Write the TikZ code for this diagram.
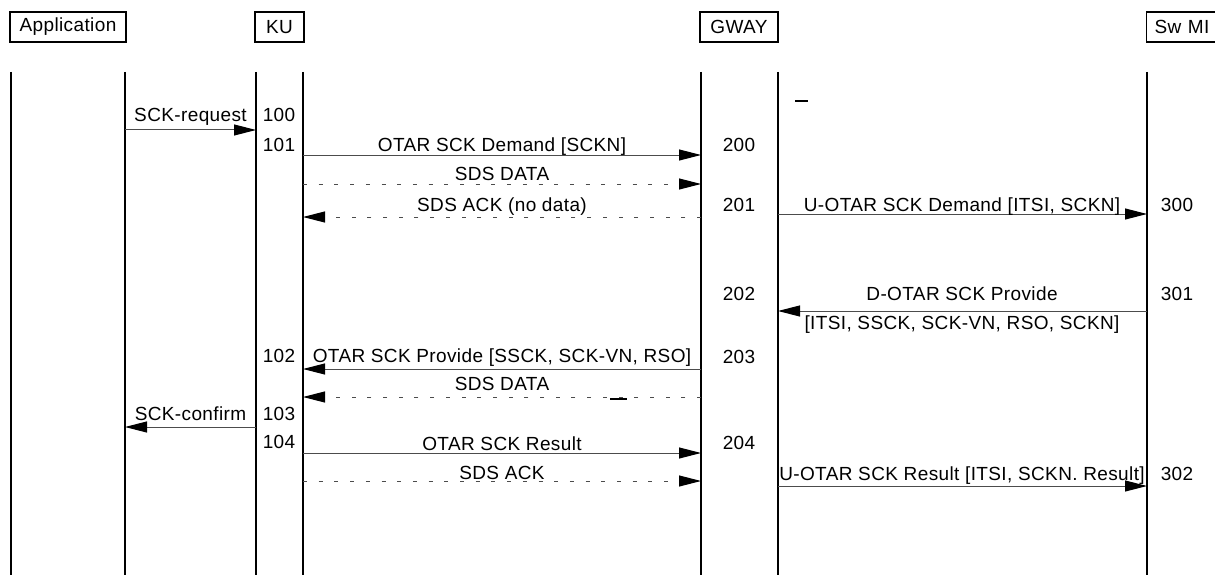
\documentclass[tikz,border=0pt]{standalone}
\usepackage{fontspec}
\setmainfont{Liberation Sans}[LetterSpace=2]
\usetikzlibrary{arrows.meta}
\begin{document}
\begin{tikzpicture}[x=1pt,y=-1pt,
  every node/.style={font=\fontsize{19}{22}\selectfont, inner sep=0pt},
  hdr/.style={draw, line width=1.4pt, minimum height=30pt, inner xsep=7pt},
  life/.style={line width=2pt},
  msg/.style={draw=black!70, line width=1pt, -{Triangle[length=22pt,width=11pt,color=black,fill=black]}},
  dmsg/.style={msg, dash pattern=on 4pt off 11.7pt},
  lbl/.style={anchor=base},
  num/.style={anchor=base},
  blot/.style={line width=2pt}]
\useasboundingbox (0,0) rectangle (1215,575);
\clip (0,0) rectangle (1215,575);
% headers
\node[hdr, minimum width=116pt] (app) at (68,27) {Application};
\node[hdr, minimum width=49pt] (ku) at (279.5,27) {KU};
\node[hdr, minimum width=78pt] (gw) at (739,27) {GWAY};
\node[hdr, anchor=west, minimum width=130pt, text width=114pt, align=left, inner xsep=8pt] (sw) at (1146,27) {Sw MI};
% lifeline ends
\coordinate (APl) at (11,72);   \coordinate (APr) at (125,72);
\coordinate (KUl) at (256,72);  \coordinate (KUr) at (303,72);
\coordinate (GWl) at (701,72);  \coordinate (GWr) at (778,72);
\coordinate (SWl) at (1147,72);
\coordinate (bot) at (0,580);
\foreach \c in {APl,APr,KUl,KUr,GWl,GWr,SWl} \draw[life] (\c) -- (\c |- bot);
% rows
\coordinate (r0) at (0,130);  \coordinate (r1) at (0,155);
\coordinate (r2) at (0,184);  \coordinate (r3) at (0,217);
\coordinate (r4) at (0,214);  \coordinate (r5) at (0,311);
\coordinate (r6) at (0,369);  \coordinate (r7) at (0,397);
\coordinate (r8) at (0,427);  \coordinate (r9) at (0,453);
\coordinate (r10) at (0,481); \coordinate (r11) at (0,486);
% messages
\draw[msg] (APr |- r0) -- (KUl |- r0);
\node[lbl] (t0) at (190.5,122) {SCK-request};
\draw[msg] (KUr |- r1) -- (GWl |- r1);
\node[lbl] (t1) at (502,152) {OTAR SCK Demand [SCKN]};
\draw[dmsg] (KUr |- r2) -- (GWl |- r2);
\node[lbl] (t2) at (502,180) {SDS DATA};
\draw[dmsg] (GWl |- r3) -- (KUr |- r3);
\node[lbl] (t3) at (502,211) {SDS ACK (no data)};
\draw[msg] (GWr |- r4) -- (SWl |- r4);
\node[lbl] (t4) at (962,211) {U-OTAR SCK Demand [ITSI, SCKN]};
\draw[msg] (SWl |- r5) -- (GWr |- r5);
\node[lbl] (t5a) at (962,300) {D-OTAR SCK Provide};
\node[lbl] (t5b) at (962,329) {[ITSI, SSCK, SCK-VN, RSO, SCKN]};
\draw[msg] (GWl |- r6) -- (KUr |- r6);
\node[lbl] (t6) at (502,362) {OTAR SCK Provide [SSCK, SCK-VN, RSO]};
\draw[dmsg] (GWl |- r7) -- (KUr |- r7);
\node[lbl] (t7) at (502,390) {SDS DATA};
\draw[msg] (KUl |- r8) -- (APr |- r8);
\node[lbl] (t8) at (190.5,420) {SCK-confirm};
\draw[msg] (KUr |- r9) -- (GWl |- r9);
\node[lbl] (t9) at (502,450) {OTAR SCK Result};
\draw[dmsg] (KUr |- r10) -- (GWl |- r10);
\node[lbl] (t10) at (502,479) {SDS ACK};
\draw[msg] (GWr |- r11) -- (SWl |- r11);
\node[lbl] (t11) at (962,480) {U-OTAR SCK Result [ITSI, SCKN. Result]};
% numbers
\node[num] (n100) at (279,122) {100};
\node[num] (n101) at (279,151) {101};
\node[num] (n102) at (279,362) {102};
\node[num] (n103) at (279,420) {103};
\node[num] (n104) at (279,448) {104};
\node[num] (n200) at (739,152) {200};
\node[num] (n201) at (739,211) {201};
\node[num] (n202) at (739,300) {202};
\node[num] (n203) at (739,363) {203};
\node[num] (n204) at (739,449) {204};
\node[num] (n300) at (1177,211) {300};
\node[num] (n301) at (1177,300) {301};
\node[num] (n302) at (1177,480) {302};
% small marks
\draw[blot] (795,101) -- (808,101);
\draw[blot] (610,399) -- (627,399);
\end{tikzpicture}
\end{document}
